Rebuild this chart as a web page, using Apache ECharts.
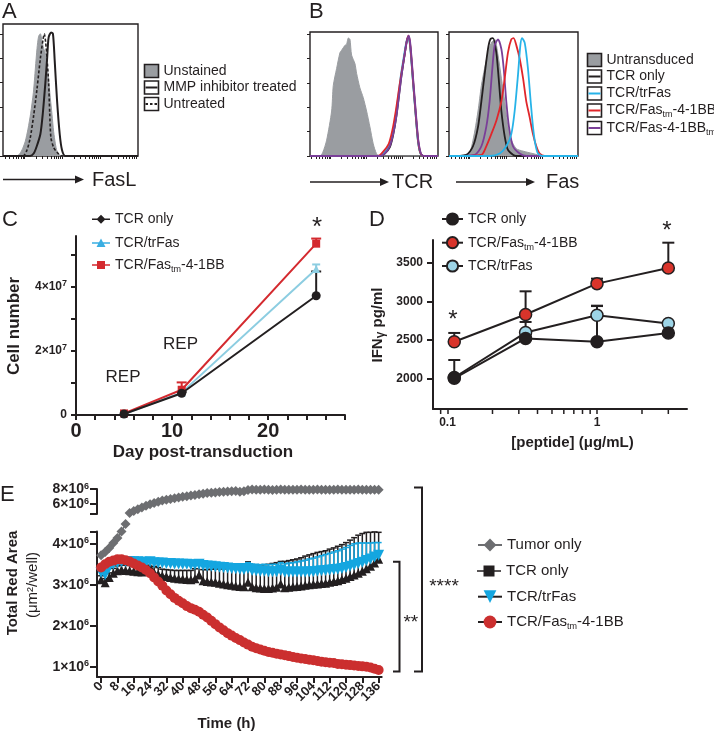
<!DOCTYPE html>
<html><head><meta charset="utf-8">
<script src="https://cdn.jsdelivr.net/npm/echarts@6/dist/echarts.min.js"></script>
<style>html,body{margin:0;padding:0;background:#fff}#c{width:714px;height:734px}</style>
</head><body><div id="c"></div>
<script>
// ================= DATA =================
// Panel A: FasL flow histograms  [channel position (% of plotted range), % of mode]
const aUnstained = [[0,0],[10.4,0],[12.5,2],[14.5,6],[16.5,12],[18.5,22],[20.5,35],[22.5,52],[24,72],[25.2,88],[26.4,98],[27.7,100],[28.9,94],[30.1,88],[31.4,84],[32.6,75],[33.8,62],[35,48],[36.3,34],[37.5,20],[38.8,10],[40,4],[41.8,1],[43.7,0],[100,0]];
const aMmpTreated = [[0,0],[20,0],[22.7,2],[25,8],[27.7,18],[29.5,35],[31.4,60],[32.7,80],[33.8,97],[35.6,101],[37,100],[38.3,78],[40,46],[42,18],[43.7,5],[46.2,0],[100,0]];
const aUntreated = [[0,0],[14.8,0],[17.8,5],[20.2,15],[22.7,33],[25.2,55],[27.7,80],[29.6,95],[30.6,100],[31.6,93],[32.6,80],[33.8,60],[34.6,35],[35.5,15],[37.5,7],[40,3],[43.7,0],[100,0]];
// Panel B (TCR staining)
const bTcrUntransduced = [[0,0],[7.8,0],[10,3],[13,13],[16.9,37],[18.2,58],[20.8,72],[23.4,85],[24.7,87],[27.3,91],[28.6,92],[29.9,97],[31.2,96],[32.5,83],[35.1,76],[36.4,68],[39,56],[41.6,48],[44.2,37],[46.8,24],[49.4,10],[51.9,2],[54,0],[100,0]];
const bTcrTcrOnly = [[0,0],[54.5,0],[58.4,2],[62.3,7],[64.9,17],[67.5,33],[70.1,55],[71.4,66],[74,84],[75.3,93],[76.6,98],[77.9,94],[79.2,79],[80.5,61],[81.8,44],[83.1,27],[84.4,12],[85.7,4],[87,1],[89.6,0],[100,0]];
const bTcrTrFas = [[0,0],[54,0],[58,3],[62,9],[64.6,19],[67.2,35],[69.8,56],[71.2,68],[73.8,85],[75.1,93],[76.3,97],[77.6,95],[79,81],[80.3,63],[81.6,46],[83,28],[84.3,13],[85.6,5],[87,1],[89.6,0],[100,0]];
const bTcrFasTm = [[0,0],[53,0],[57.5,4],[61.5,10],[64.3,21],[67,37],[69.8,57],[71.4,68],[74,84],[75.5,94],[76.8,99],[78,94],[79.4,78],[80.7,60],[82,43],[83.3,26],[84.6,12],[85.9,4],[87.2,1],[89.6,0],[100,0]];
const bTcrFasBBtm = [[0,0],[54.5,0],[58.4,2],[62.3,8],[65,18],[67.7,34],[70.3,56],[71.6,67],[74.2,85],[75.6,94],[76.9,99],[78.1,95],[79.4,80],[80.7,62],[82,45],[83.3,28],[84.6,13],[85.9,5],[87.2,1],[89.8,0],[100,0]];
// Panel B (Fas staining)
const bFasUntransduced = [[0,0],[14.7,1],[18.6,13],[22.5,37],[25.1,58],[27.6,72],[30.2,85],[32.8,93],[35.4,96],[38,83],[40.6,64],[43.2,45],[45.7,24],[48.3,13],[52.2,6],[57.4,4],[65.1,2],[72.9,0],[100,0]];
const bFasTcrOnly = [[0,0],[13.4,1],[18.6,8],[22.5,24],[25.1,45],[27.6,67],[30.2,88],[32,96],[34.1,97],[36.7,85],[38.5,64],[40.6,37],[43.2,16],[45.7,5],[49.6,1],[52,0],[100,0]];
const bFasTrFas = [[0,0],[31.5,0],[39.3,2],[44.4,8],[48.3,18],[50.9,37],[53.5,67],[55.3,91],[56.6,97],[58.7,93],[61.2,72],[63.3,45],[65.1,24],[66.9,10],[69,2],[72.9,0],[100,0]];
const bFasFasTm = [[0,0],[25.1,1],[28.9,8],[32.8,18],[36.7,29],[40.6,45],[43.2,64],[45.7,85],[48.3,96],[50.1,97],[52.2,91],[54.8,80],[57.4,64],[59.9,45],[62.5,32],[65.1,18],[67.7,8],[70.3,2],[74.2,0],[100,0]];
const bFasFasBBtm = [[0,0],[19.9,1],[25.1,8],[28.9,24],[31.5,45],[33.6,72],[35.4,91],[38,96],[40.6,88],[42.4,72],[44.4,45],[46.5,24],[49.6,8],[54.8,2],[60,0],[100,0]];

// Panel C: cell expansion (cell number, x10^7)
const cDays = [5, 11, 25];
const cTcrOnly = [0.03, 0.68, 3.73];
const cTcrOnlyUpper = [0.03, 0.72, 4.49];
const cTrFas = [0.03, 0.70, 4.57];
const cTrFasUpper = [0.03, 0.70, 4.71];
const cFasTm = [0.05, 0.79, 5.36];
const cFasTmUpper = [0.05, 1.02, 5.52];
const cYLabels = [0, 2, 4];
const cYTicks = [0, 1, 2, 3, 4, 5];
const cXLabels = [0, 10, 20];
const cXTicks = [0, 2, 4, 6, 8, 10, 12, 14, 16, 18, 20, 22, 24, 26, 28];

// Panel D: IFN-gamma (pg/ml) vs peptide (ug/mL)
const dPeptide = [0.111, 0.333, 1, 3];
const dTcrOnly = [2000, 2519, 2476, 2590];
const dTcrOnlyUpper = [2238, 2519, 2940, 2590];
const dFasTm = [2476, 2830, 3232, 3435];
const dFasTmUpper = [2590, 3132, 3297, 3765];
const dTrFas = [2010, 2595, 2820, 2714];
const dTrFasUpper = [2010, 2733, 2945, 2714];
const dYLabels = [2000, 2500, 3000, 3500];
const dMinorTicks = [0.09, 0.2, 0.3, 0.4, 0.5, 0.6, 0.7, 0.8, 0.9, 2, 3];

// Panel E: Total red area (x10^6 um^2/well) vs time (h)
const eTime = [0,2,4,6,8,10,12,14,16,18,20,22,24,26,28,30,32,34,36,38,40,42,44,46,48,50,52,54,56,58,60,62,64,66,68,70,72,74,76,78,80,82,84,86,88,90,92,94,96,98,100,102,104,106,108,110,112,114,116,118,120,122,124,126,128,130,132,134,136];
const eXLabels = [0,8,16,24,32,40,48,56,64,72,80,88,96,104,112,120,128,136];
const eTumorOnly = [3.72,3.80,3.90,4.02,4.14,4.30,4.48,4.72,5.00,5.25,
  5.48,5.72,5.92,6.10,6.28,6.42,6.55,6.64,6.74,6.84,
  6.93,7.03,7.12,7.19,7.28,7.37,7.44,7.49,7.54,7.59,
  7.63,7.67,7.71,7.74,7.62,7.70,7.88,7.92,7.90,7.91,
  7.93,7.90,7.88,7.91,7.92,7.90,7.89,7.91,7.90,7.92,
  7.91,7.89,7.90,7.92,7.91,7.90,7.89,7.91,7.92,7.90,
  7.91,7.89,7.90,7.92,7.91,7.90,7.89,7.91,7.90];
const eTcrOnly = [3.12,3.05,3.18,3.28,3.34,3.36,3.35,3.34,3.33,3.32,
  3.31,3.34,3.44,3.30,3.26,3.22,3.20,3.18,3.16,3.15,
  3.14,3.13,3.12,3.15,3.24,3.10,3.08,3.07,3.06,3.04,
  3.02,3.00,2.99,2.97,2.96,2.95,3.06,2.95,2.93,2.92,
  2.91,2.91,2.92,2.94,3.02,2.93,2.94,2.95,2.96,2.97,
  2.99,3.00,3.01,3.02,3.03,3.04,3.06,3.08,3.10,3.13,
  3.16,3.20,3.24,3.28,3.33,3.39,3.45,3.53,3.62];
const eTcrOnlyErr = [0.10,0.10,0.11,0.12,0.12,0.12,0.13,0.13,0.13,0.14,
  0.14,0.14,0.15,0.15,0.16,0.16,0.17,0.18,0.19,0.20,
  0.21,0.22,0.23,0.24,0.25,0.27,0.29,0.31,0.33,0.35,
  0.37,0.40,0.45,0.50,0.54,0.56,0.50,0.54,0.56,0.57,
  0.58,0.59,0.60,0.60,0.55,0.64,0.65,0.66,0.67,0.69,
  0.71,0.73,0.75,0.77,0.78,0.79,0.81,0.82,0.84,0.85,
  0.87,0.89,0.91,0.93,0.92,0.89,0.83,0.76,0.66];
const eTrFas = [3.30,3.25,3.42,3.50,3.54,3.56,3.57,3.57,3.56,3.56,
  3.55,3.55,3.56,3.54,3.53,3.53,3.52,3.52,3.51,3.51,
  3.50,3.50,3.49,3.49,3.50,3.47,3.46,3.45,3.44,3.43,
  3.42,3.41,3.40,3.39,3.38,3.37,3.40,3.35,3.34,3.33,
  3.33,3.32,3.32,3.32,3.35,3.31,3.31,3.31,3.31,3.31,
  3.31,3.32,3.32,3.33,3.34,3.35,3.36,3.37,3.38,3.40,
  3.42,3.45,3.48,3.52,3.55,3.59,3.63,3.68,3.72];
const eTrFasErr = [0.05,0.05,0.05,0.05,0.05,0.05,0.05,0.05,0.05,0.05,
  0.05,0.05,0.06,0.05,0.05,0.06,0.05,0.06,0.06,0.06,
  0.06,0.06,0.06,0.07,0.07,0.07,0.08,0.08,0.08,0.09,
  0.09,0.10,0.11,0.12,0.13,0.14,0.14,0.15,0.16,0.16,
  0.17,0.17,0.18,0.18,0.19,0.20,0.22,0.23,0.25,0.27,
  0.29,0.31,0.33,0.35,0.37,0.39,0.41,0.43,0.45,0.47,
  0.49,0.51,0.52,0.50,0.47,0.43,0.39,0.35,0.31];
const eFasTm = [3.42,3.50,3.56,3.59,3.62,3.62,3.60,3.57,3.52,3.47,
  3.42,3.36,3.28,3.18,3.08,2.98,2.86,2.77,2.68,2.61,
  2.55,2.48,2.43,2.39,2.34,2.27,2.20,2.12,2.04,1.96,
  1.89,1.82,1.76,1.70,1.65,1.59,1.54,1.49,1.45,1.42,
  1.39,1.36,1.34,1.32,1.30,1.28,1.26,1.24,1.22,1.20,
  1.19,1.17,1.16,1.14,1.12,1.11,1.10,1.09,1.07,1.06,
  1.05,1.04,1.03,1.02,1.01,1.00,0.98,0.95,0.92];

// ================= STYLE / HELPERS =================
const FONT = '"Liberation Sans", Arial, Helvetica, sans-serif';
const INK = '#231f20';
const GRAYFILL = '#9a9da1';
const SUB = {sub: {fontSize: 9, lineHeight: 9, verticalAlign: 'bottom', fontFamily: FONT, fill: INK, color: INK}};
const SUP = {sup: {fontSize: 9, lineHeight: 9, verticalAlign: 'top', fontFamily: FONT, fontWeight: 'bold', color: INK}};
// split the E time labels over two coincident axes so neighbouring rotated labels never collide
const eXLabelsEven = eXLabels.filter(function (v, i) { return i % 2 === 0; });
const eXLabelsOdd = eXLabels.filter(function (v, i) { return i % 2 === 1; });

const flowTicks = (function () {
  const out = [];
  for (let s = -12; s < 100; s += 28) {
    for (let k = 1; k <= 9; k++) {
      const v = s + 28 * Math.log10(k);
      if (v >= 0 && v <= 100) out.push(+v.toFixed(2));
    }
  }
  return out;
})();

function histX(gi) {
  return {type: 'value', gridIndex: gi, min: 0, max: 100, splitLine: {show: false},
    axisLine: {show: false, onZero: false}, axisLabel: {show: false},
    axisTick: {show: true, length: 3, customValues: flowTicks, lineStyle: {color: INK, width: 1}}};
}
function histY(gi, max) {
  return {type: 'value', gridIndex: gi, min: 0, max: max, splitLine: {show: false},
    axisLine: {show: false}, axisLabel: {show: false},
    axisTick: {show: true, length: 3, customValues: [0, 20, 40, 60, 80, 100], lineStyle: {color: INK, width: 1}}};
}
function histLine(gi, data, color, width, dash, area) {
  const s = {type: 'line', xAxisIndex: gi, yAxisIndex: gi, data: data, symbol: 'none', smooth: 0.25,
    silent: true, lineStyle: {color: color, width: width, type: dash || 'solid'}};
  if (area) s.areaStyle = {color: area, opacity: 1};
  return s;
}
function errSeries(gi, data, color, cap, width, z) {
  return {type: 'custom', xAxisIndex: gi, yAxisIndex: gi, data: data, silent: true, z: z || 2, clip: false,
    encode: {x: 0, y: [1, 2]},
    renderItem: function (params, api) {
      const x = api.value(0), y = api.value(1), up = api.value(2);
      if (!(up > y)) return {type: 'group', children: []};
      const p0 = api.coord([x, y]), p1 = api.coord([x, up]);
      return {type: 'group', children: [
        {type: 'line', shape: {x1: p0[0], y1: p0[1], x2: p1[0], y2: p1[1]}, style: {stroke: color, lineWidth: width}},
        {type: 'line', shape: {x1: p1[0] - cap / 2, y1: p1[1], x2: p1[0] + cap / 2, y2: p1[1]}, style: {stroke: color, lineWidth: width}}
      ]};
    }};
}
const axLine = {show: true, onZero: false, lineStyle: {color: INK, width: 2}};
const tickStyle = {color: INK, width: 2};
function legendFmt(n) { return n.replace(/^[CDE]: /, '').replace('_tm', '{sub|tm}'); }
function oneLegend(name, left, cy, iw, ih, fs, icon, itemStyle) {
  const item = {name: name};
  if (icon) item.icon = icon;
  if (itemStyle) item.itemStyle = itemStyle;
  return {data: [item], left: left, top: cy - 9, orient: 'vertical', padding: 0, itemGap: 0,
    itemWidth: iw, itemHeight: ih, selectedMode: false, formatter: legendFmt,
    textStyle: {fontFamily: FONT, fontSize: fs, color: INK, lineHeight: 18, rich: SUB}};
}

// ================= GRAPHIC (labels, annotations) =================
function T(x, y, text, style, extra) {
  const el = {type: 'text', x: x, y: y, silent: true,
    style: Object.assign({text: text, fontFamily: FONT, fill: INK, fontSize: 14, align: 'left', verticalAlign: 'middle'}, style || {})};
  return Object.assign(el, extra || {});
}
function L(x1, y1, x2, y2, w) { return {type: 'line', silent: true, shape: {x1: x1, y1: y1, x2: x2, y2: y2}, style: {stroke: INK, lineWidth: w || 1.5}}; }
function arrow(x1, x2, y) {
  return [L(x1, y, x2 - 6, y, 1.5), {type: 'polygon', silent: true, shape: {points: [[x2, y], [x2 - 9, y - 4], [x2 - 9, y + 4]]}, style: {fill: INK}}];
}
function flowKey(x, cy, fill, lineColor, dash, label) {
  const els = [{type: 'rect', silent: true, shape: {x: x, y: cy - 6.5, width: 14, height: 13}, style: {fill: fill, stroke: INK, lineWidth: 1.6}}];
  if (lineColor) els.push({type: 'line', silent: true, shape: {x1: x + 1, y1: cy, x2: x + 13, y2: cy}, style: {stroke: lineColor, lineWidth: 2, lineDash: dash || null}});
  els.push(T(x + 19, cy, label, {fontSize: 14, lineHeight: 18, rich: SUB}));
  return els;
}

const G = [].concat(
  // panel letters
  [T(2, 11.5, 'A', {fontSize: 22}), T(309, 12, 'B', {fontSize: 22}), T(2, 220, 'C', {fontSize: 22}),
   T(369, 219.5, 'D', {fontSize: 22}), T(0, 494.5, 'E', {fontSize: 22})],
  // A legend
  flowKey(144.5, 71, GRAYFILL, null, null, 'Unstained'),
  flowKey(144.5, 87.5, '#fff', INK, null, 'MMP inhibitor treated'),
  flowKey(144.5, 104, '#fff', INK, [2.5, 2], 'Untreated'),
  // B legend
  flowKey(587.5, 60, GRAYFILL, null, null, 'Untransduced'),
  flowKey(587.5, 76.5, '#fff', INK, null, 'TCR only'),
  flowKey(587.5, 93.5, '#fff', '#27b3e8', null, 'TCR/trFas'),
  flowKey(587.5, 110.5, '#fff', '#e0262b', null, 'TCR/Fas{sub|tm}-4-1BB'),
  flowKey(587.5, 128, '#fff', '#7a3f98', null, 'TCR/Fas-4-1BB{sub|tm}'),
  // flow axis arrows
  arrow(3, 84, 179.5), [T(92, 180, 'FasL', {fontSize: 20})],
  arrow(310, 389, 182), [T(392, 182.5, 'TCR', {fontSize: 20})],
  arrow(456, 535, 182), [T(546, 182.5, 'Fas', {fontSize: 20})],
  // C annotations and titles
  [T(123, 377, 'REP', {fontSize: 17, align: 'center'}), T(180.5, 344, 'REP', {fontSize: 17, align: 'center'}),
   T(317, 228, '*', {fontSize: 26, align: 'center'}),
   T(14, 326, 'Cell number', {fontSize: 17, fontWeight: 'bold', align: 'center'}, {rotation: Math.PI / 2}),
   T(203, 452, 'Day post-transduction', {fontSize: 17, fontWeight: 'bold', align: 'center'})],
  // D annotations and titles
  [T(453, 320, '*', {fontSize: 24, align: 'center'}), T(667, 231, '*', {fontSize: 24, align: 'center'}),
   T(378, 325, 'IFN{g|γ} pg/ml', {fontSize: 15, fontWeight: 'bold', align: 'center', rich: {g: {fontSize: 12, fontWeight: 'bold', fontFamily: FONT, verticalAlign: 'bottom', lineHeight: 14}}, lineHeight: 18}, {rotation: Math.PI / 2}),
   T(572.5, 443, '[peptide] (μg/mL)', {fontSize: 15, fontWeight: 'bold', align: 'center'})],
  // E titles and significance brackets
  [T(12.5, 583, 'Total Red Area', {fontSize: 15, fontWeight: 'bold', align: 'center'}, {rotation: Math.PI / 2}),
   T(33, 585, '(μm²/well)', {fontSize: 15, align: 'center'}, {rotation: Math.PI / 2}),
   T(226.5, 724, 'Time (h)', {fontSize: 15, fontWeight: 'bold', align: 'center'}),
   {type: 'polyline', silent: true, shape: {points: [[393, 561.7], [399.5, 561.7], [399.5, 671.5], [393, 671.5]]}, style: {stroke: INK, lineWidth: 2, fill: null}},
   {type: 'polyline', silent: true, shape: {points: [[414, 487.5], [422, 487.5], [422, 671.5], [414, 671.5]]}, style: {stroke: INK, lineWidth: 2, fill: null}},
   T(410.8, 622.5, '**', {fontSize: 19, align: 'center'}),
   T(444, 587, '****', {fontSize: 19, align: 'center'})]
);

// ================= OPTION =================
const gridBase = {outerBoundsMode: 'none', containLabel: false, backgroundColor: 'transparent'};
const boxGrid = {show: true, borderColor: INK, borderWidth: 1.4};
const eLabelFmt = function (v) { return v + '×10{sup|6}'; };
const eXLabelStyle = {hideOverlap: false, showMaxLabel: true, showMinLabel: true, interval: 0,
  rotate: 45, fontSize: 13, fontWeight: 'bold', color: INK, margin: 7,
  formatter: function (v) { return String(v); }};

const option = {
  animation: false,
  backgroundColor: '#fff',
  textStyle: {fontFamily: FONT},
  grid: [
    Object.assign({left: 3, top: 24, width: 135, height: 132}, gridBase, boxGrid),
    Object.assign({left: 310, top: 32, width: 128, height: 124}, gridBase, boxGrid),
    Object.assign({left: 449, top: 32, width: 129, height: 124}, gridBase, boxGrid),
    Object.assign({left: 76, top: 236, width: 269, height: 179}, gridBase),
    Object.assign({left: 433, top: 240, width: 254, height: 169}, gridBase),
    Object.assign({left: 97, top: 489, width: 284.7, height: 25}, gridBase),
    Object.assign({left: 97, top: 531.5, width: 284.7, height: 145.5}, gridBase)
  ],
  xAxis: [
    histX(0), histX(1), histX(2),
    {type: 'value', gridIndex: 3, min: 0, max: 28, splitLine: {show: false}, axisLine: axLine,
      axisTick: {show: true, length: 5, customValues: cXTicks, lineStyle: tickStyle},
      axisLabel: {customValues: cXLabels, hideOverlap: false, fontSize: 20, fontWeight: 'bold', color: INK, margin: 6}},
    {type: 'log', logBase: 10, gridIndex: 4, min: 0.08, max: 4, splitLine: {show: false}, axisLine: axLine,
      axisTick: {show: true, length: 5, lineStyle: {color: INK, width: 1.5}}, minorTick: {show: false},
      axisLabel: {showMinLabel: false, showMaxLabel: false, fontSize: 12, fontWeight: 'bold', color: INK, margin: 8,
        formatter: function (v) { return String(+(+v).toPrecision(3)); }}},
    // upper E panel x axis: invisible line/ticks, moved down to the lower panel's baseline, carries the odd time labels
    {type: 'value', gridIndex: 5, min: -2, max: 137.5, position: 'bottom', offset: 163, splitLine: {show: false},
      axisLine: {show: false, onZero: false}, axisTick: {show: false},
      axisLabel: Object.assign({customValues: eXLabelsOdd}, eXLabelStyle)},
    {type: 'value', gridIndex: 6, min: -2, max: 137.5, position: 'bottom', splitLine: {show: false}, axisLine: axLine,
      axisTick: {show: true, length: 6, customValues: eXLabels, lineStyle: tickStyle},
      axisLabel: Object.assign({customValues: eXLabelsEven}, eXLabelStyle)}
  ],
  yAxis: [
    histY(0, 108), histY(1, 102), histY(2, 102),
    {type: 'value', gridIndex: 3, min: 0, max: 5.6, splitLine: {show: false}, axisLine: axLine,
      axisTick: {show: true, length: 5, customValues: cYTicks, lineStyle: tickStyle},
      axisLabel: {customValues: cYLabels, hideOverlap: false, fontSize: 12, fontWeight: 'bold', color: INK, margin: 9, lineHeight: 16,
        formatter: function (v) { return v === 0 ? '0' : v + '×10{sup|7}'; }, rich: SUP}},
    {type: 'value', gridIndex: 4, min: 1600, max: 3800, splitLine: {show: false}, axisLine: axLine,
      axisTick: {show: true, length: 6, customValues: dYLabels, lineStyle: tickStyle},
      axisLabel: {customValues: dYLabels, hideOverlap: false, fontSize: 12, fontWeight: 'bold', color: INK, margin: 10,
        formatter: function (v) { return String(v); }}},
    {type: 'value', gridIndex: 5, min: 4.6, max: 8, splitLine: {show: false}, axisLine: axLine,
      axisTick: {show: true, length: 7, customValues: [4.6, 6, 8], lineStyle: tickStyle},
      axisLabel: {customValues: [6, 8], hideOverlap: false, showMinLabel: true, showMaxLabel: true, interval: 0,
        fontSize: 14, fontWeight: 'bold', color: INK, margin: 8, lineHeight: 14, formatter: eLabelFmt, rich: SUP}},
    {type: 'value', gridIndex: 6, min: 0.75, max: 4.3, splitLine: {show: false}, axisLine: axLine,
      axisTick: {show: true, length: 7, customValues: [1, 2, 3, 4, 4.3], lineStyle: tickStyle},
      axisLabel: {customValues: [1, 2, 3, 4], hideOverlap: false, fontSize: 14, fontWeight: 'bold', color: INK, margin: 8, lineHeight: 16, formatter: eLabelFmt, rich: SUP}}
  ],
  legend: [
    oneLegend('C: TCR only', 92, 219.3, 18, 10, 14, 'path://M0,4.3H18V5.7H0Z M9,0.5L13.5,5L9,9.5L4.5,5Z'),
    oneLegend('C: TCR/trFas', 92, 242.7, 18, 10, 14, 'path://M0,4.3H18V5.7H0Z M9,0.5L13.5,9L4.5,9Z', {color: '#3aaee2'}),
    oneLegend('C: TCR/Fas_tm-4-1BB', 92, 265, 18, 10, 14, 'path://M0,4.3H18V5.7H0Z M5,1H13V9H5Z'),
    oneLegend('D: TCR only', 441, 219, 21, 14, 14),
    oneLegend('D: TCR/Fas_tm-4-1BB', 441, 242.7, 21, 14, 14),
    oneLegend('D: TCR/trFas', 441, 266, 21, 14, 14),
    oneLegend('E: Tumor only', 477, 545, 24, 16, 15),
    oneLegend('E: TCR only', 477, 571, 24, 16, 15, 'path://M0,7.2H24V8.8H0Z M6.5,2.5H17.5V13.5H6.5Z'),
    oneLegend('E: TCR/trFas', 477, 596.7, 24, 16, 15),
    oneLegend('E: TCR/Fas_tm-4-1BB', 477, 622, 24, 16, 15)
  ],
  series: [
    // A
    histLine(0, aUnstained, GRAYFILL, 1, null, GRAYFILL),
    histLine(0, aUntreated, INK, 1.6, [3, 2]),
    histLine(0, aMmpTreated, INK, 2),
    // B - TCR
    histLine(1, bTcrUntransduced, GRAYFILL, 1, null, GRAYFILL),
    histLine(1, bTcrTcrOnly, INK, 1.8),
    histLine(1, bTcrTrFas, '#27b3e8', 1.8),
    histLine(1, bTcrFasTm, '#e0262b', 1.8),
    histLine(1, bTcrFasBBtm, '#7a3f98', 1.8),
    // B - Fas
    histLine(2, bFasUntransduced, GRAYFILL, 1, null, GRAYFILL),
    histLine(2, bFasTcrOnly, INK, 1.8),
    histLine(2, bFasFasBBtm, '#7a3f98', 1.8),
    histLine(2, bFasFasTm, '#e0262b', 1.8),
    histLine(2, bFasTrFas, '#27b3e8', 1.8),
    // C
    errSeries(3, cDays.map(function (d, i) { return [d, cTcrOnly[i], cTcrOnlyUpper[i]]; }), INK, 10, 2, 2),
    errSeries(3, cDays.map(function (d, i) { return [d, cTrFas[i], cTrFasUpper[i]]; }), '#8ccde1', 8, 2, 2),
    errSeries(3, cDays.map(function (d, i) { return [d, cFasTm[i], cFasTmUpper[i]]; }), '#d42a2f', 10, 2, 2),
    {name: 'C: TCR/trFas', type: 'line', xAxisIndex: 3, yAxisIndex: 3, data: cDays.map(function (d, i) { return [d, cTrFas[i]]; }),
      symbol: 'triangle', symbolSize: 8, itemStyle: {color: '#8ccde1'}, lineStyle: {color: '#8ccde1', width: 2}, z: 3},
    {name: 'C: TCR/Fas_tm-4-1BB', type: 'line', xAxisIndex: 3, yAxisIndex: 3, data: cDays.map(function (d, i) { return [d, cFasTm[i]]; }),
      symbol: 'rect', symbolSize: 8, itemStyle: {color: '#d42a2f'}, lineStyle: {color: '#d42a2f', width: 2}, z: 3},
    {name: 'C: TCR only', type: 'line', xAxisIndex: 3, yAxisIndex: 3, data: cDays.map(function (d, i) { return [d, cTcrOnly[i]]; }),
      symbol: 'circle', symbolSize: 9, itemStyle: {color: INK}, lineStyle: {color: INK, width: 2}, z: 4},
    // D
    {type: 'custom', xAxisIndex: 4, yAxisIndex: 4, silent: true, clip: false, data: dMinorTicks.map(function (v) { return [v, 1600]; }),
      encode: {x: 0, y: 1},
      renderItem: function (params, api) {
        const p = api.coord([api.value(0), api.value(1)]);
        return {type: 'line', shape: {x1: p[0], y1: p[1], x2: p[0], y2: p[1] + 5}, style: {stroke: INK, lineWidth: 1.5}};
      }},
    errSeries(4, dPeptide.map(function (d, i) { return [d, dTcrOnly[i], dTcrOnlyUpper[i]]; }), INK, 12, 2, 2),
    errSeries(4, dPeptide.map(function (d, i) { return [d, dTrFas[i], dTrFasUpper[i]]; }), INK, 12, 2, 2),
    errSeries(4, dPeptide.map(function (d, i) { return [d, dFasTm[i], dFasTmUpper[i]]; }), INK, 12, 2, 2),
    {name: 'D: TCR/Fas_tm-4-1BB', type: 'line', xAxisIndex: 4, yAxisIndex: 4, data: dPeptide.map(function (d, i) { return [d, dFasTm[i]]; }),
      symbol: 'circle', symbolSize: 12, itemStyle: {color: '#d9342b', borderColor: INK, borderWidth: 1.5}, lineStyle: {color: INK, width: 2}, z: 3},
    {name: 'D: TCR/trFas', type: 'line', xAxisIndex: 4, yAxisIndex: 4, data: dPeptide.map(function (d, i) { return [d, dTrFas[i]]; }),
      symbol: 'circle', symbolSize: 12, itemStyle: {color: '#9dd4e6', borderColor: INK, borderWidth: 1.5}, lineStyle: {color: INK, width: 2}, z: 3},
    {name: 'D: TCR only', type: 'line', xAxisIndex: 4, yAxisIndex: 4, data: dPeptide.map(function (d, i) { return [d, dTcrOnly[i]]; }),
      symbol: 'circle', symbolSize: 12, itemStyle: {color: INK, borderColor: INK, borderWidth: 1.5}, lineStyle: {color: INK, width: 2}, z: 4},
    // E
    {name: 'E: Tumor only', type: 'line', xAxisIndex: 5, yAxisIndex: 5,
      data: eTime.map(function (t, i) { return [t, eTumorOnly[i]]; }).filter(function (p) { return p[1] > 4.55; }),
      symbol: 'diamond', symbolSize: 10, itemStyle: {color: '#6d6e71'}, lineStyle: {color: '#6d6e71', width: 1.5}, z: 3},
    {name: 'E: Tumor only', type: 'line', xAxisIndex: 6, yAxisIndex: 6, clip: false,
      data: eTime.map(function (t, i) { return [t, eTumorOnly[i]]; }).filter(function (p) { return p[1] <= 4.55; }),
      symbol: 'diamond', symbolSize: 10, itemStyle: {color: '#6d6e71'}, lineStyle: {color: '#6d6e71', width: 1.5}, z: 3},
    errSeries(6, eTime.map(function (t, i) { return [t, eTcrOnly[i], +(eTcrOnly[i] + eTcrOnlyErr[i]).toFixed(3)]; }), INK, 6, 1.5, 2),
    {name: 'E: TCR only', type: 'line', xAxisIndex: 6, yAxisIndex: 6, data: eTime.map(function (t, i) { return [t, eTcrOnly[i]]; }),
      symbol: 'triangle', symbolSize: 9, itemStyle: {color: INK}, lineStyle: {color: INK, width: 1.5}, z: 3},
    errSeries(6, eTime.map(function (t, i) { return [t, eTrFas[i], +(eTrFas[i] + eTrFasErr[i]).toFixed(3)]; }), '#14a6e0', 6, 1.5, 3),
    {name: 'E: TCR/trFas', type: 'line', xAxisIndex: 6, yAxisIndex: 6, data: eTime.map(function (t, i) { return [t, eTrFas[i]]; }),
      symbol: 'path://M0,0L10,0L5,9Z', symbolSize: 11, itemStyle: {color: '#14a6e0'}, lineStyle: {color: INK, width: 1.5}, z: 4},
    {name: 'E: TCR/Fas_tm-4-1BB', type: 'line', xAxisIndex: 6, yAxisIndex: 6, data: eTime.map(function (t, i) { return [t, eFasTm[i]]; }),
      symbol: 'circle', symbolSize: 10, itemStyle: {color: '#cb2f2f'}, lineStyle: {color: INK, width: 1.5}, z: 5}
  ],
  graphic: {elements: G}
};

const chart = echarts.init(document.getElementById('c'), null, {renderer: 'canvas'});
chart.setOption(option);
</script>
</body></html>
